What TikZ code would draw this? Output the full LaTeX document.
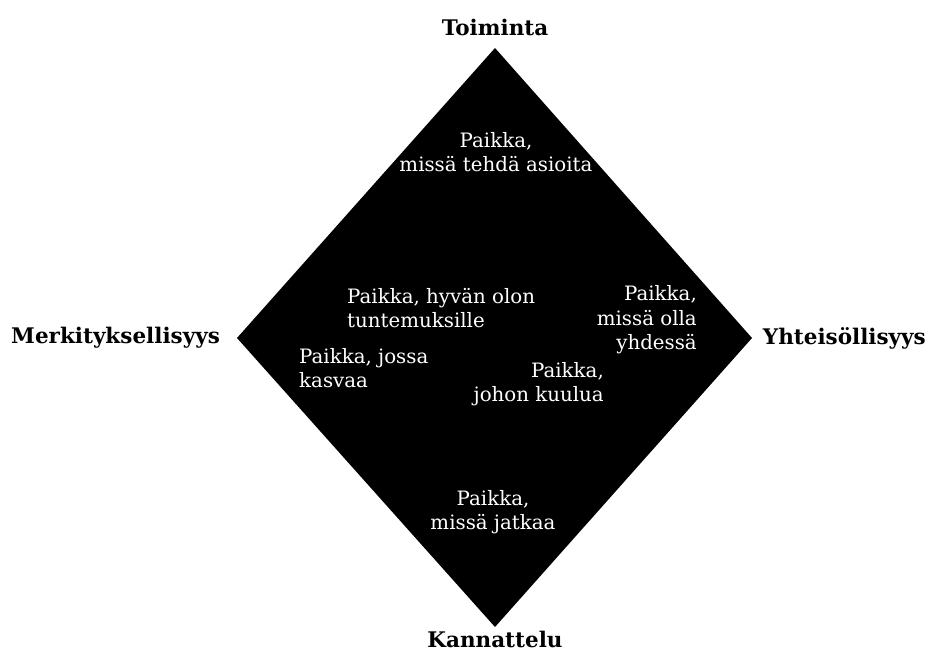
\documentclass[tikz,border=0pt]{standalone}
\usepackage{fontspec}
\setmainfont{DejaVu Serif}
\begin{document}
\begin{tikzpicture}[x=1pt,y=-1pt,
  inner/.style={text=white,font=\fontsize{19.8}{24.5}\selectfont,inner sep=0pt},
  axis/.style={text=black,font=\bfseries\fontsize{21.5}{24}\selectfont,inner sep=0pt}]
\useasboundingbox[fill=white] (0,0) rectangle (934,662);
\coordinate (T) at (495,48);
\coordinate (R) at (752,338);
\coordinate (B) at (495,627);
\coordinate (L) at (237,338);
\fill[black] (T) -- (R) -- (B) -- (L) -- cycle;
\node[axis] (toim) at (495,27) {Toiminta};
\node[axis] (kann) at (495,639) {Kannattelu};
\node[axis,anchor=west] (merk) at (11,338) {Merkityksellisyys};
\node[axis,anchor=east] (yht) at (926,338) {Yhteisöllisyys};
\node[inner,align=center] (t1) at (496,152) {Paikka,\\missä tehdä asioita};
\node[inner,align=left,anchor=west] (t2) at (347,308) {Paikka, hyvän olon\\tuntemuksille};
\node[inner,align=left,anchor=west] (t3) at (299,368) {Paikka, jossa\\kasvaa};
\node[inner,align=right,anchor=east] (t4) at (697,320) {Paikka,\\missä olla\\yhdessä};
\node[inner,align=right,anchor=east] (t5) at (604,384) {Paikka,\\johon kuulua};
\node[inner,align=center] (t6) at (493,512) {Paikka,\\missä jatkaa};
\end{tikzpicture}
\end{document}
